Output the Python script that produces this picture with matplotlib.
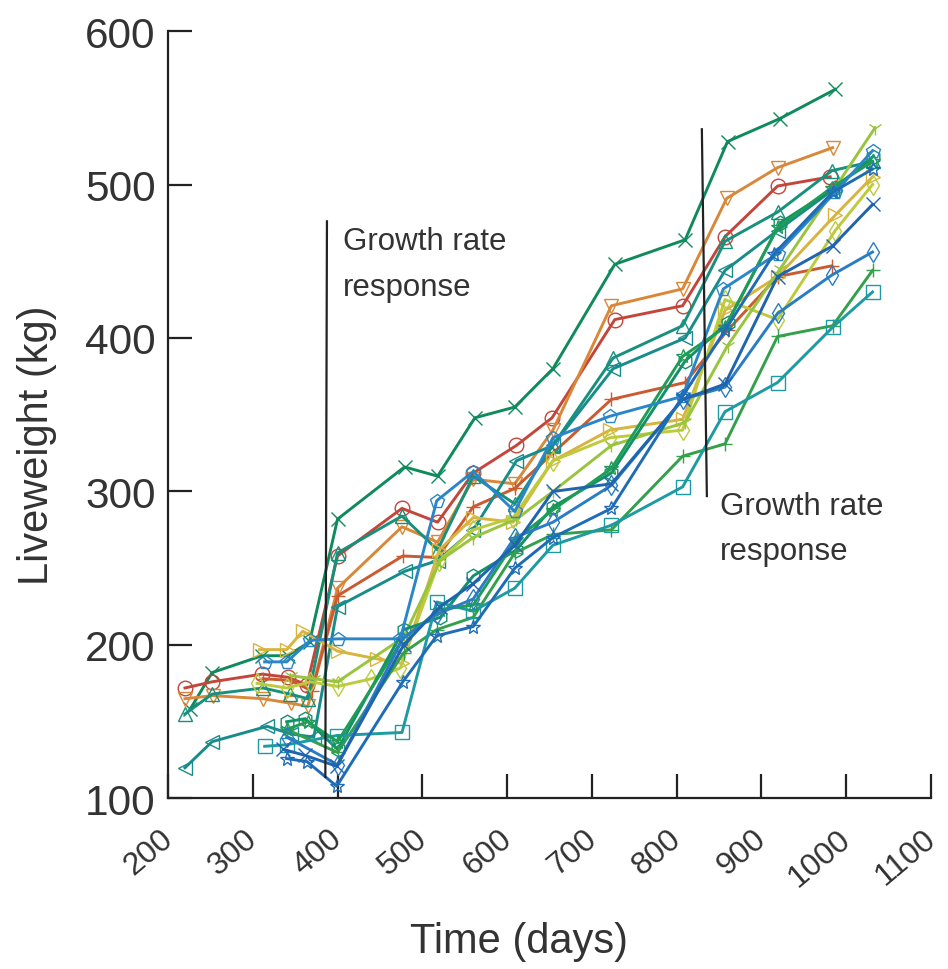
import matplotlib
matplotlib.use('Agg')
import matplotlib.pyplot as plt
from matplotlib.transforms import ScaledTranslation

# liveweight records, one animal per pair (days, kg)
days_x = [226, 252, 311, 341, 367, 400, 479, 518, 562, 609, 654, 727, 810, 860, 922, 987]
kg_x = [158, 182, 193, 193, 202, 282, 316, 310, 348, 355, 380, 448, 464, 528, 543, 562]

days_o = [220, 252, 311, 341, 364, 400, 476, 518, 560, 611, 653, 727, 807, 857, 919, 981]
kg_o = [172, 176, 181, 179, 174, 258, 289, 280, 312, 330, 348, 412, 421, 466, 499, 505]

days_v = [220, 253, 312, 345, 365, 400, 476, 518, 560, 609, 654, 723, 807, 859, 919, 984]
kg_v = [165, 167, 165, 162, 160, 237, 277, 267, 308, 305, 340, 421, 432, 491, 511, 524]

days_plus_r = [312, 344, 370, 400, 477, 518, 560, 609, 654, 723, 810, 860, 919, 983]
kg_plus_r = [178, 177, 170, 232, 258, 257, 290, 302, 325, 360, 371, 405, 440, 447]

days_tri = [220, 252, 312, 344, 365, 400, 476, 518, 560, 609, 654, 725, 807, 857, 919, 983, 1031]
kg_tri = [155, 168, 172, 168, 165, 260, 284, 262, 310, 292, 330, 387, 408, 463, 482, 509, 515]

days_left = [220, 252, 317, 345, 372, 400, 479, 518, 560, 611, 654, 725, 810, 857, 919, 983]
kg_left = [120, 137, 147, 142, 140, 225, 248, 255, 275, 320, 330, 380, 400, 444, 470, 496]

days_gold = [308, 340, 359, 400, 446, 476, 520, 560, 607, 654, 721, 807, 857, 919, 987, 1031]
kg_gold = [197, 197, 209, 196, 191, 188, 262, 283, 280, 320, 340, 347, 418, 440, 480, 505]

days_lime = [305, 340, 368, 400, 440, 474, 520, 560, 607, 654, 721, 807, 857, 919, 987, 1031]
kg_lime = [175, 172, 176, 173, 178, 185, 255, 275, 283, 320, 335, 340, 425, 412, 470, 500]

days_yg = [345, 372, 400, 478, 521, 560, 611, 654, 723, 810, 860, 922, 987, 1034]
kg_yg = [180, 178, 176, 205, 255, 270, 282, 300, 330, 345, 395, 445, 498, 537]

days_hex = [340, 362, 400, 478, 521, 560, 611, 654, 723, 810, 860, 922, 987, 1031]
kg_hex = [150, 152, 132, 210, 218, 245, 262, 290, 312, 385, 410, 475, 498, 518]

days_plus_g = [340, 400, 478, 517, 560, 609, 654, 723, 807, 857, 919, 984, 1031]
kg_plus_g = [145, 130, 195, 210, 218, 260, 272, 275, 323, 331, 401, 408, 444]

days_sq = [314, 340, 399, 476, 517, 560, 609, 654, 723, 807, 857, 919, 984, 1031]
kg_sq = [134, 135, 141, 143, 228, 222, 237, 265, 278, 303, 352, 371, 407, 430]

days_ast_g = [340, 365, 400, 477, 521, 560, 611, 654, 723, 807, 857, 919, 983, 1031]
kg_ast_g = [145, 150, 137, 204, 223, 226, 269, 288, 315, 388, 407, 472, 498, 515]

days_dia = [340, 400, 478, 517, 560, 609, 654, 723, 807, 857, 919, 983, 1031]
kg_dia = [140, 122, 205, 220, 230, 270, 280, 304, 360, 368, 416, 441, 456]

days_star = [314, 340, 368, 400, 474, 517, 560, 609, 654, 721, 807, 855, 919, 987, 1031]
kg_star = [189, 189, 203, 204, 204, 294, 313, 287, 335, 349, 362, 432, 455, 495, 522]

days_bx = [336, 362, 399, 478, 521, 560, 609, 654, 723, 807, 857, 919, 984, 1031]
kg_bx = [132, 128, 121, 200, 225, 240, 265, 300, 305, 360, 370, 440, 460, 487]

days_ast_b = [340, 364, 399, 477, 517, 560, 609, 654, 723, 807, 857, 915, 984, 1031]
kg_ast_b = [126, 124, 108, 176, 206, 212, 250, 270, 289, 362, 405, 455, 495, 510]

animals = [(days_x, kg_x), (days_o, kg_o), (days_v, kg_v), (days_plus_r, kg_plus_r),
           (days_tri, kg_tri), (days_left, kg_left), (days_gold, kg_gold),
           (days_lime, kg_lime), (days_yg, kg_yg), (days_hex, kg_hex),
           (days_plus_g, kg_plus_g), (days_sq, kg_sq), (days_ast_g, kg_ast_g),
           (days_dia, kg_dia), (days_star, kg_star), (days_bx, kg_bx),
           (days_ast_b, kg_ast_b)]
colours = ['#0f8a5c', '#c4453a', '#d88838', '#cc5a30', '#17907c', '#178c8a',
           '#d8b43e', '#bccb3c', '#98c43e', '#12906a', '#34a04c', '#1d9aa2',
           '#1f9c56', '#2a7cc4', '#2a86c8', '#2064ae', '#1f6cb6']
markers = ['x', 'o', 'v', '+', '^', '<', '>', 'd', '1', 'h', '+', 's', '*',
           'd', 'p', 'x', '*']

# response periods marked on the scan (slightly skewed)
line1_x = [387.5, 385.6]
line1_y = [476, 114]
line2_x = [829.7, 835.6]
line2_y = [536, 297]

fig = plt.figure(figsize=(9.48, 9.70), dpi=100)
ax = fig.add_axes([0.1772, 0.1758, 0.8049, 0.7912])

for (d, w), c, m in zip(animals, colours, markers):
    ax.plot(d, w, color=c, lw=2.1, marker=m, ms=10.5, mfc='none', mec=c, mew=1.0)

ax.plot(line1_x, line1_y, color='#222222', lw=1.6)
ax.plot(line2_x, line2_y, color='#222222', lw=1.6)

txtfont = 'Liberation Sans'
ax.text(406, 473, 'Growth rate\nresponse', fontsize=22.5, family=txtfont,
        color='#333333', va='top', ha='left', linespacing=1.7)
ax.text(851, 300, 'Growth rate\nresponse', fontsize=22.5, family=txtfont,
        color='#333333', va='top', ha='left', linespacing=1.65)

ax.set_xlim(200, 1100)
ax.set_ylim(100, 600)
ax.set_xticks(range(200, 1101, 100))
ax.set_yticks(range(100, 601, 100))
for s in ['top', 'right']:
    ax.spines[s].set_visible(False)
for s in ['left', 'bottom']:
    ax.spines[s].set_linewidth(1.6)
    ax.spines[s].set_color('#222222')

ax.tick_params(direction='in', length=17, width=1.6, color='#222222')
ax.tick_params(axis='y', labelsize=30.5, pad=9, labelcolor='#333333')
ax.tick_params(axis='x', labelsize=23, pad=18, labelcolor='#333333')
for lab in ax.get_yticklabels():
    lab.set_family(txtfont)
shift = ScaledTranslation(-9 / 100, 0, fig.dpi_scale_trans)
for lab in ax.get_xticklabels():
    lab.set_family(txtfont)
    lab.set_rotation(40)
    lab.set_ha('right')
    lab.set_va('top')
    lab.set_rotation_mode('anchor')
    lab.set_transform(lab.get_transform() + shift)

ax.set_ylabel('Liveweight (kg)', fontsize=30, family=txtfont, color='#333333')
ax.set_xlabel('Time (days)', fontsize=30, family=txtfont, color='#333333')
ax.yaxis.set_label_coords(-0.145, 0.462)
ax.xaxis.set_label_coords(0.46, -0.16)

fig.savefig('out.png', dpi=100)
